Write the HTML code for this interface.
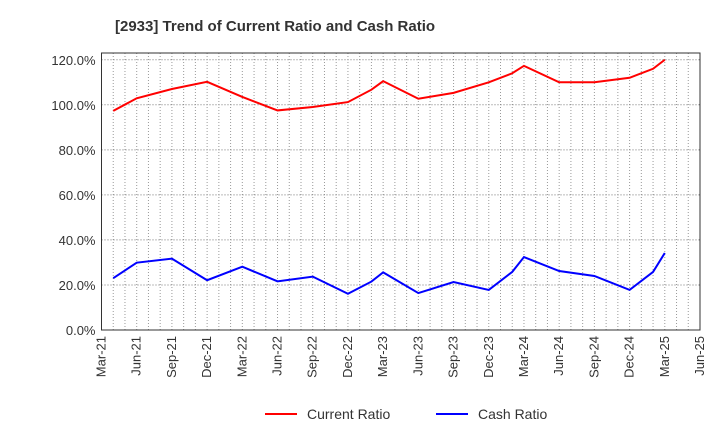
<!DOCTYPE html><html><head><meta charset="utf-8"><style>body{margin:0;background:#fff;font-family:"Liberation Sans",sans-serif}</style></head><body>
<svg width="720" height="440" id="c" font-family="Liberation Sans, sans-serif">
<text x="115" y="31" font-size="15" font-weight="bold" fill="#333">[2933]  Trend of Current Ratio and Cash Ratio</text>
<g id="grid"></g><g id="axes"></g><g id="lines"></g>
<g>
<line x1="265" y1="414" x2="297" y2="414" stroke="#f00" stroke-width="2"/><text x="307" y="419" font-size="14" fill="#333">Current Ratio</text>
<line x1="436" y1="414" x2="468" y2="414" stroke="#00f" stroke-width="2"/><text x="478" y="419" font-size="14" fill="#333">Cash Ratio</text>
</g>
</svg>
<script>
const months=[1,3,6,9,12,15,18,21,23,24,27,30,33,35,36,39,42,45,47,48];
const currentRatio=[97.3,102.9,107,110.2,103.5,97.5,99,101.2,106.7,110.5,102.7,105.3,110,114,117.3,110,110,112,116,120];
const cashRatio=[23,29.9,31.7,22.1,28.1,21.6,23.7,16.1,21.5,25.6,16.4,21.3,17.8,25.8,32.4,26.2,24,17.8,25.8,34.2];
const xLabels=["Mar-21","Jun-21","Sep-21","Dec-21","Mar-22","Jun-22","Sep-22","Dec-22","Mar-23","Jun-23","Sep-23","Dec-23","Mar-24","Jun-24","Sep-24","Dec-24","Mar-25","Jun-25"];
const yTicks=[0,20,40,60,80,100,120];
const L=101.5,R=700,T=53,B=330,NM=51;
const x=m=>L+m*(R-L)/NM, y=v=>B-v*(B-T)/123;
const ns="http://www.w3.org/2000/svg";
function mk(t,a,p){const e=document.createElementNS(ns,t);for(const k in a)e.setAttribute(k,a[k]);p.appendChild(e);return e;}
const g=document.getElementById('grid'),ax=document.getElementById('axes'),ln=document.getElementById('lines');
for(let m=1;m<NM;m++){const e=mk('line',{x1:x(m),x2:x(m),y1:T,y2:B,stroke:'#999','stroke-dasharray':'1,2'},g);

}
yTicks.forEach(v=>{if(v>0){const e=mk('line',{x1:L,x2:R,y1:y(v),y2:y(v),stroke:'#777','stroke-dasharray':'1,2'},g);

}
const t=mk('text',{x:L-6,y:y(v)+5,'font-size':13,'text-anchor':'end',fill:'#333'},ax);t.textContent=v.toFixed(1)+'%';

});
const fr=mk('rect',{x:L,y:T,width:R-L,height:B-T,fill:'none',stroke:'#333'},ax);


xLabels.forEach((s,i)=>{const xx=x(i*3);const t=mk('text',{transform:`translate(${xx+4},${B+6}) rotate(-90)`,'font-size':13,'text-anchor':'end',fill:'#333'},ax);t.textContent=s;

});
function line(d,c,n){const p=mk('polyline',{points:months.map((m,i)=>x(m)+','+y(d[i])).join(' '),fill:'none',stroke:c,'stroke-width':2},ln);

}
line(currentRatio,'#f00','current-ratio-line');line(cashRatio,'#00f','cash-ratio-line');
</script></body></html>
